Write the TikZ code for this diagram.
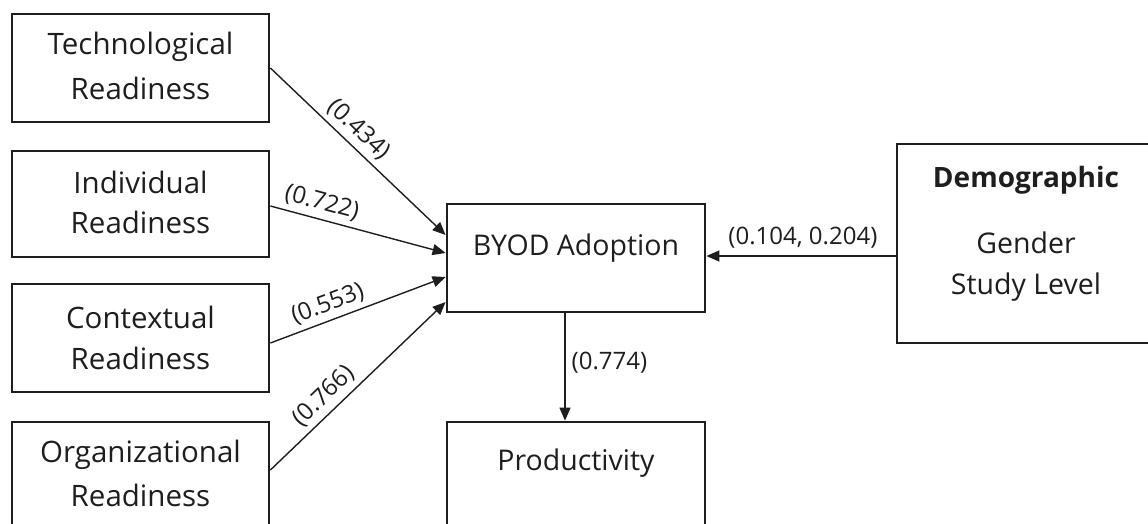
\documentclass[tikz,border=0pt]{standalone}
\usepackage{fontspec}
\setmainfont{Open Sans}[Ligatures=NoCommon]
\usetikzlibrary{arrows.meta}
\definecolor{ink}{HTML}{1E1E1E}
\tikzset{
  box/.style={draw=ink, line width=2.8pt, rectangle, inner sep=0pt, minimum width=257pt, minimum height=108pt},
  lbl/.style={text=ink, font=\fontsize{29.5}{34}\selectfont, inner sep=0pt},
  ntxt/.style={text=ink, font=\fontsize{28.5}{33}\selectfont, inner sep=0pt},
  coef/.style={text=ink, font=\fontsize{24}{28}\selectfont, inner sep=2pt},
  arr/.style={draw=ink, line width=1.4pt, -{Triangle[length=13pt,width=11pt]}}
}
\begin{document}
\begin{tikzpicture}[x=1pt,y=-1pt]
\useasboundingbox (0,0) rectangle (1148,523);
\clip (0,0) rectangle (1148,523);
% left boxes
\node[box] (tech) at (140.5,68) {};
\node[lbl] at (140.5,47) {Technological};
\node[lbl] at (140.5,88) {Readiness};
\node[box, minimum height=106pt] (indiv) at (140.5,204) {};
\node[lbl] at (140.5,182) {Individual};
\node[lbl] at (140.5,222) {Readiness};
\node[box] (ctx) at (140.5,338) {};
\node[lbl] at (140.5,317) {Contextual};
\node[lbl] at (140.5,358) {Readiness};
\node[box] (org) at (140.5,476) {};
\node[lbl] at (140.5,455) {Organizational};
\node[lbl] at (140.5,495) {Readiness};
% centre boxes
\node[box, minimum width=258pt] (byod) at (576,258) {};
\node[ntxt] at (576,248) {BYOD Adoption};
\node[box, minimum width=258pt] (prod) at (576,476) {};
\node[ntxt] at (576,463) {Productivity};
% demographic
\node[box, minimum width=258pt, minimum height=199pt] (demo) at (1026,243.5) {};
\node[ntxt, font=\bfseries\fontsize{28}{33}\selectfont] at (1026,180) {Demographic};
\node[ntxt] at (1026,243) {Gender};
\node[ntxt] at (1026,287) {Study Level};
% connectors
\draw[arr] (tech.east) -- node[coef, pos=0.44, sloped, above=3pt] {(0.434)} ([yshift=23pt]byod.west);
\draw[arr] ([yshift=-2pt]indiv.east) -- node[coef, pos=0.27, sloped, above=3pt] {(0.722)} ([yshift=5pt]byod.west);
\draw[arr] ([yshift=-5pt]ctx.east) -- node[coef, pos=0.36, sloped, above=3pt] {(0.553)} ([yshift=-19pt]byod.west);
\draw[arr] ([yshift=6pt]org.east) -- node[coef, pos=0.37, sloped, above=3pt] {(0.766)} ([yshift=-44pt]byod.west);
\draw[arr] ([yshift=-12.5pt]demo.west) -- node[coef, pos=0.49, above=5pt] {(0.104, 0.204)} ([yshift=-12.5pt]demo.west -| byod.east);
\draw[arr] ([xshift=-11pt]byod.south) -- node[coef, pos=0.46, right=4pt] {(0.774)} ([xshift=-11pt]prod.north);
\end{tikzpicture}
\end{document}
